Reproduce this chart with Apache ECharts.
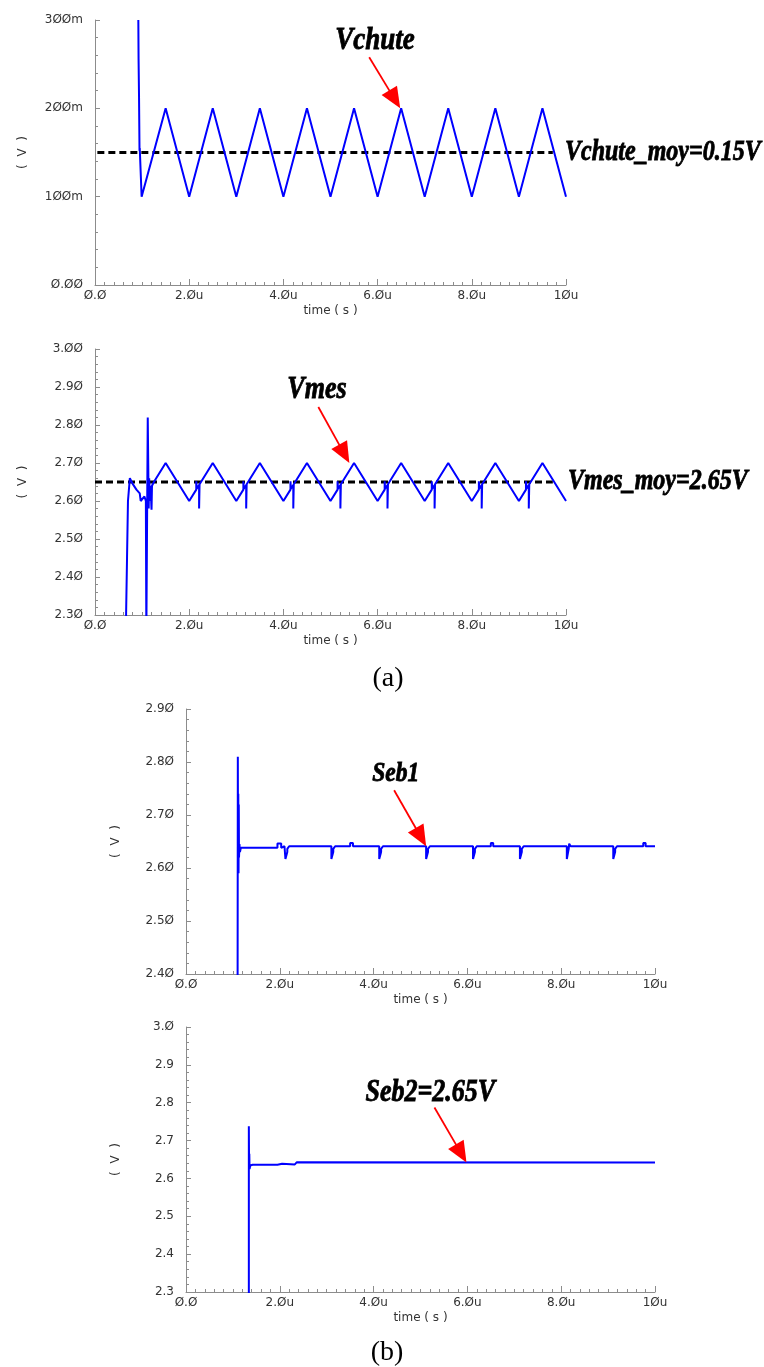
<!DOCTYPE html>
<html><head><meta charset="utf-8">
<script src="https://cdn.jsdelivr.net/npm/echarts/dist/echarts.min.js"></script>
<style>html,body{margin:0;padding:0;background:#fff}#c{width:764px;height:1367px}</style>
</head><body><div id="c"></div>
<script>
// ---------- tick labels ----------
const timeLabels = ['Ø.Ø','2.Øu','4.Øu','6.Øu','8.Øu','1Øu'];
const vchuteLabels = ['Ø.ØØ','1ØØm','2ØØm','3ØØm'];
const vmesLabels = ['2.3Ø','2.4Ø','2.5Ø','2.6Ø','2.7Ø','2.8Ø','2.9Ø','3.ØØ'];
const seb1Labels = ['2.4Ø','2.5Ø','2.6Ø','2.7Ø','2.8Ø','2.9Ø'];
const seb2Labels = ['2.3','2.4','2.5','2.6','2.7','2.8','2.9','3.Ø'];

// ---------- series (time in us, volts) ----------
const vchute = [[0.92,0.300],[0.925,0.256],[0.93,0.254],[0.935,0.212],[0.94,0.21],[0.945,0.152],[0.95,0.155],[0.99,0.100],
 [1.5,0.200],[2.0,0.100],[2.5,0.200],[3.0,0.100],[3.5,0.200],[4.0,0.100],[4.5,0.200],[5.0,0.100],[5.5,0.200],
 [6.0,0.100],[6.5,0.200],[7.0,0.100],[7.5,0.200],[8.0,0.100],[8.5,0.200],[9.0,0.100],[9.5,0.200],[10.0,0.100]];
const vchuteMean = [[0.05,0.15],[9.72,0.15]];

const vmes = [[0.66,2.25],[0.66,2.30],[0.68,2.45],[0.70,2.60],[0.74,2.66],[0.80,2.645],[0.88,2.63],[0.95,2.62],[0.97,2.60],[1.00,2.60],[1.05,2.612],[1.08,2.60],
 [1.09,2.25],[1.11,2.25],[1.12,2.82],[1.13,2.70],[1.14,2.58],[1.15,2.66],[1.17,2.60],[1.18,2.64],[1.20,2.577],[1.21,2.64],[1.25,2.65],[1.50,2.70],
 [2.00,2.60],[2.15,2.63],[2.15,2.652],[2.16,2.632],[2.21,2.642],[2.21,2.58],[2.22,2.644],[2.50,2.70],
 [3.00,2.60],[3.15,2.63],[3.15,2.652],[3.16,2.632],[3.21,2.642],[3.21,2.58],[3.22,2.644],[3.50,2.70],
 [4.00,2.60],[4.15,2.63],[4.15,2.652],[4.16,2.632],[4.21,2.642],[4.21,2.58],[4.22,2.644],[4.50,2.70],
 [5.00,2.60],[5.15,2.63],[5.15,2.652],[5.16,2.632],[5.21,2.642],[5.21,2.58],[5.22,2.644],[5.50,2.70],
 [6.00,2.60],[6.15,2.63],[6.15,2.652],[6.16,2.632],[6.21,2.642],[6.21,2.58],[6.22,2.644],[6.50,2.70],
 [7.00,2.60],[7.15,2.63],[7.15,2.652],[7.16,2.632],[7.21,2.642],[7.21,2.58],[7.22,2.644],[7.50,2.70],
 [8.00,2.60],[8.15,2.63],[8.15,2.652],[8.16,2.632],[8.21,2.642],[8.21,2.58],[8.22,2.644],[8.50,2.70],
 [9.00,2.60],[9.15,2.63],[9.15,2.652],[9.16,2.632],[9.21,2.642],[9.21,2.58],[9.22,2.644],[9.50,2.70],
 [10.00,2.60]];
const vmesMean = [[0.0,2.65],[9.72,2.65]];

const seb1 = [[1.10,2.35],[1.105,2.81],[1.11,2.60],[1.115,2.74],[1.12,2.59],[1.125,2.72],[1.13,2.62],[1.14,2.645],[1.15,2.63],[1.17,2.638],
 [1.95,2.638],[1.95,2.646],[2.03,2.646],[2.03,2.638],[2.10,2.641],
 [2.12,2.641],[2.12,2.617],[2.14,2.617],[2.16,2.630],[2.16,2.636],[2.20,2.641],
 [3.10,2.641],[3.10,2.617],[3.12,2.617],[3.14,2.630],[3.14,2.636],[3.18,2.641],
 [3.50,2.641],[3.50,2.647],[3.56,2.647],[3.56,2.641],
 [4.12,2.641],[4.12,2.617],[4.14,2.617],[4.16,2.630],[4.16,2.636],[4.20,2.641],
 [5.12,2.641],[5.12,2.617],[5.14,2.617],[5.16,2.630],[5.16,2.636],[5.20,2.641],
 [6.12,2.641],[6.12,2.617],[6.14,2.617],[6.16,2.630],[6.16,2.636],[6.20,2.641],
 [6.50,2.641],[6.50,2.647],[6.55,2.647],[6.55,2.641],
 [7.12,2.641],[7.12,2.617],[7.14,2.617],[7.16,2.630],[7.16,2.636],[7.20,2.641],
 [8.12,2.641],[8.12,2.617],[8.14,2.620],[8.16,2.636],[8.17,2.646],[8.20,2.641],
 [9.11,2.641],[9.11,2.617],[9.13,2.617],[9.15,2.630],[9.15,2.636],[9.19,2.641],
 [9.75,2.641],[9.75,2.647],[9.80,2.647],[9.80,2.641],[10.0,2.641]];

const seb2 = [[1.34,2.25],[1.34,2.738],[1.345,2.63],[1.35,2.665],[1.355,2.625],[1.37,2.634],[1.42,2.636],
 [1.95,2.636],[1.95,2.639],[2.05,2.639],[2.05,2.636],[2.32,2.637],[2.36,2.6425],[10.0,2.642]];

// ---------- layout ----------
const grids = [
  {left:95, top:20, width:471, height:265},
  {left:95, top:349, width:471, height:266},
  {left:186, top:709, width:469, height:265},
  {left:186, top:1027, width:469, height:265}
];
const yCfg = [
  {min:0, max:0.3, interval:0.1, labels:vchuteLabels, nameGap:66},
  {min:2.3, max:3.0, interval:0.1, labels:vmesLabels, nameGap:66},
  {min:2.4, max:2.9, interval:0.1, labels:seb1Labels, nameGap:64},
  {min:2.3, max:3.0, interval:0.1, labels:seb2Labels, nameGap:64}
];
const axisGray = '#8c8c8c';
const labelFont = {color:'#333', fontSize:12, fontFamily:'DejaVu Sans'};

const option = {
  backgroundColor:'#fff',
  animation:false,
  grid: grids,
  xAxis: grids.map((g,i)=>({
    type:'value', gridIndex:i, min:0, max:10, interval:2,
    name:'time ( s )', nameLocation:'middle', nameGap:20,
    nameTextStyle:Object.assign({}, labelFont),
    axisLine:{show:true, lineStyle:{color:axisGray, width:1}},
    axisTick:{show:true, inside:true, length:6, lineStyle:{color:axisGray}},
    minorTick:{show:true, splitNumber:10, length:3, lineStyle:{color:axisGray}},
    splitLine:{show:false},
    axisLabel:Object.assign({margin:5, formatter:(v)=>timeLabels[Math.round(v/2)]}, labelFont)
  })),
  yAxis: yCfg.map((c,i)=>({
    type:'value', gridIndex:i, min:c.min, max:c.max, interval:c.interval,
    name:'(  V  )', nameLocation:'middle', nameGap:c.nameGap, nameRotate:90,
    nameTextStyle:Object.assign({}, labelFont),
    axisLine:{show:true, lineStyle:{color:axisGray, width:1}},
    axisTick:{show:true, inside:true, length:5, lineStyle:{color:axisGray}},
    minorTick:{show:true, splitNumber:5, length:3, lineStyle:{color:axisGray}},
    splitLine:{show:false},
    axisLabel:Object.assign({margin:12, verticalAlign:'middle', padding:[0,0,7,0],
      formatter:(v)=>c.labels[Math.round((v-c.min)/c.interval)]}, labelFont)
  })),
  series: [
    {type:'line', xAxisIndex:0, yAxisIndex:0, data:vchuteMean, symbol:'none', silent:true,
      lineStyle:{color:'#000', width:3, type:[7,4]}},
    {type:'line', xAxisIndex:0, yAxisIndex:0, data:vchute, symbol:'none', silent:true,
      lineStyle:{color:'#0000ff', width:2}},
    {type:'line', xAxisIndex:1, yAxisIndex:1, data:vmesMean, symbol:'none', silent:true,
      lineStyle:{color:'#000', width:3, type:[7,4]}},
    {type:'line', xAxisIndex:1, yAxisIndex:1, data:vmes, symbol:'none', silent:true,
      lineStyle:{color:'#0000ff', width:2}},
    {type:'line', xAxisIndex:2, yAxisIndex:2, data:seb1, symbol:'none', silent:true,
      lineStyle:{color:'#0000ff', width:2}},
    {type:'line', xAxisIndex:3, yAxisIndex:3, data:seb2, symbol:'none', silent:true,
      lineStyle:{color:'#0000ff', width:2}}
  ]
};

const chart = echarts.init(document.getElementById('c'), null, {renderer:'canvas'});
chart.setOption(option);

// ---------- annotations (arrow tip anchored in data space) ----------
const notes = [
  {grid:0, tip:[6.48,0.2],   tail:[-31,-51], text:'Vchute', size:27, tx:-65, ty:-68},
  {grid:1, tip:[5.40,2.70],  tail:[-31,-56], text:'Vmes',   size:26, tx:-62, ty:-73},
  {grid:2, tip:[5.12,2.641], tail:[-32,-56], text:'Seb1',   size:23.5, tx:-54, ty:-73},
  {grid:3, tip:[5.98,2.642], tail:[-32,-55], text:'Seb2=2.65V', size:26, tx:-101, ty:-70}
];
const meanNotes = [
  {grid:0, at:[10,0.15], text:'Vchute_moy=0.15V', size:24, dx:-1},
  {grid:1, at:[10,2.65], text:'Vmes_moy=2.65V', size:24, dx:2}
];
const serif = '"Liberation Serif", "Times New Roman", serif';
const graphics = [];
function boldText(x, y, text, size){
  return {type:'text', x:x, y:y, scaleY:1.2, z:100,
    style:{text:text, fill:'#000', fontFamily:serif, fontSize:size, fontWeight:'bold', fontStyle:'italic',
      stroke:'#000', lineWidth:0.7, align:'left', verticalAlign:'middle'}};
}
notes.forEach(n=>{
  const p = chart.convertToPixel({gridIndex:n.grid}, n.tip);
  const t = [p[0]+n.tail[0], p[1]+n.tail[1]];
  const dx = p[0]-t[0], dy = p[1]-t[1], L = Math.hypot(dx,dy);
  const ux = dx/L, uy = dy/L, head = 21, hw = 9;
  const bx = p[0]-ux*head, by = p[1]-uy*head;
  graphics.push({type:'line', z:100, shape:{x1:t[0], y1:t[1], x2:bx+ux*2, y2:by+uy*2},
    style:{stroke:'#ff0000', lineWidth:1.8}});
  graphics.push({type:'polygon', z:100, shape:{points:[[p[0],p[1]],[bx-uy*hw,by+ux*hw],[bx+uy*hw,by-ux*hw]]},
    style:{fill:'#ff0000'}});
  graphics.push(boldText(p[0]+n.tx, p[1]+n.ty, n.text, n.size));
});
meanNotes.forEach(n=>{
  const p = chart.convertToPixel({gridIndex:n.grid}, n.at);
  graphics.push(boldText(p[0]+n.dx, p[1], n.text, n.size));
});
graphics.push({type:'text', x:388, y:679, z:100, style:{text:'(a)', fill:'#000', fontFamily:serif, fontSize:28, align:'center', verticalAlign:'middle'}});
graphics.push({type:'text', x:387, y:1353, z:100, style:{text:'(b)', fill:'#000', fontFamily:serif, fontSize:28, align:'center', verticalAlign:'middle'}});
chart.setOption({graphic:graphics});
</script>
</body></html>
